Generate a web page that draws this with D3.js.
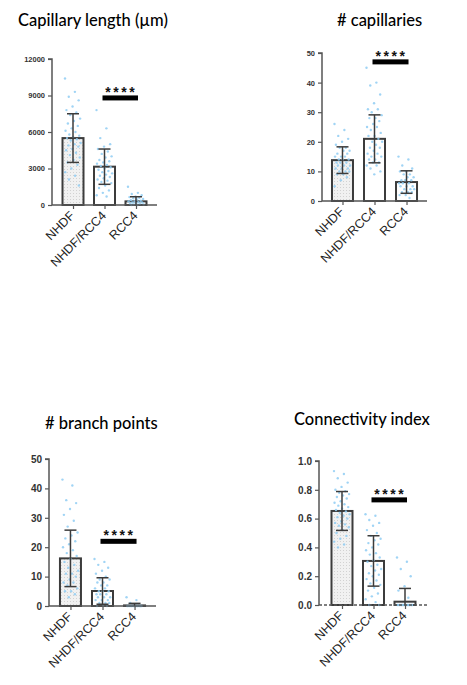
<!DOCTYPE html>
<html><head><meta charset="utf-8">
<script src="https://cdn.jsdelivr.net/npm/d3@7"></script>
<style>body{margin:0;background:#fff}svg{display:block}</style>
</head><body>
<svg id="c" width="467" height="685"></svg>
<script>
const categories = ["NHDF", "NHDF/RCC4", "RCC4"];

// Capillary length (µm)
const lenMean = [5500, 3150, 300];
const lenSD = [2000, 1450, 380];
const lenTicks = [0, 3000, 6000, 9000, 12000];
const lenNHDF = [10400, 9300, 8900, 8600, 8100, 7800, 7600, 7400, 7100, 6900, 6700, 6500, 6300, 6100, 6000, 5800, 5700, 5600, 5500, 5400, 5300, 5100, 5000, 4900, 4800, 4600, 4500, 4300, 4100, 3900, 3700, 3500, 3300, 3000, 2700, 2400, 2100, 1600];
const lenMix = [7800, 6300, 5500, 5000, 4800, 4600, 4400, 4200, 4000, 3900, 3700, 3600, 3500, 3400, 3300, 3200, 3100, 3000, 2900, 2800, 2700, 2600, 2500, 2400, 2300, 2200, 2100, 2000, 1900, 1800, 1600, 1400, 1200, 1000, 800, 700];
const lenRCC4 = [1500, 1000, 900, 800, 700, 650, 600, 550, 500, 450, 400, 350, 300, 300, 250, 200, 200, 150, 100, 100, 50, 50, 0, 0];

// # capillaries
const capMean = [13.8, 21, 6.4];
const capSD = [4.5, 8.1, 3.8];
const capTicks = [0, 10, 20, 30, 40, 50];
const capNHDF = [26, 24, 22, 21, 20, 19, 18, 18, 17, 17, 16, 16, 15, 15, 15, 14, 14, 14, 13, 13, 13, 12, 12, 12, 11, 11, 11, 10, 10, 10, 9, 9, 8, 7, 5];
const capMix = [45, 40, 39, 36, 33, 31, 31, 30, 29, 28, 28, 27, 26, 25, 25, 24, 23, 22, 22, 21, 20, 20, 19, 18, 18, 17, 16, 16, 15, 15, 14, 14, 13, 13, 12, 12, 11, 10, 9];
const capRCC4 = [15, 14, 12, 11, 10, 10, 9, 9, 8, 8, 7, 7, 7, 6, 6, 6, 5, 5, 5, 4, 4, 4, 3, 3, 3, 2, 2, 1];

// # branch points
const brMean = [16.2, 5.1, 0.2];
const brSD = [9.6, 4.5, 0.7];
const brTicks = [0, 10, 20, 30, 40, 50];
const brNHDF = [43, 41, 36, 35, 33, 31, 29, 27, 25, 24, 23, 22, 21, 20, 19, 18, 17, 16, 15, 14, 13, 12, 11, 11, 10, 9, 8, 8, 7, 6, 5, 5, 4, 3];
const brMix = [16, 15, 14, 13, 12, 11, 10, 9, 9, 8, 8, 7, 7, 6, 6, 5, 5, 5, 4, 4, 4, 3, 3, 3, 2, 2, 2, 1, 1, 1, 0, 0, 0];
const brRCC4 = [3, 2, 1, 0, 0, 0, 0, 0, 0, 0, 0, 0, 0, 0, 0, 0, 0, 0];

// Connectivity index
const ciMean = [0.653, 0.306, 0.023];
const ciSD = [0.135, 0.175, 0.092];
const ciTicks = [0, 0.2, 0.4, 0.6, 0.8, 1.0];
const ciNHDF = [0.93, 0.91, 0.88, 0.85, 0.82, 0.80, 0.79, 0.78, 0.77, 0.76, 0.75, 0.74, 0.72, 0.71, 0.70, 0.69, 0.68, 0.67, 0.66, 0.65, 0.64, 0.63, 0.62, 0.61, 0.60, 0.58, 0.57, 0.56, 0.55, 0.54, 0.52, 0.50, 0.48, 0.46, 0.44, 0.42, 0.40];
const ciMix = [0.63, 0.62, 0.59, 0.57, 0.55, 0.52, 0.50, 0.48, 0.46, 0.45, 0.43, 0.42, 0.40, 0.38, 0.36, 0.35, 0.33, 0.31, 0.30, 0.28, 0.27, 0.25, 0.24, 0.22, 0.21, 0.20, 0.18, 0.17, 0.15, 0.14, 0.12, 0.10, 0.08, 0.06, 0.04, 0.02, 0, 0];
const ciRCC4 = [0.33, 0.30, 0.25, 0.20, 0.13, 0.10, 0.05, 0, 0, 0, 0, 0, 0, 0, 0, 0, 0, 0, 0, 0];

const titles = ["Capillary length (µm)", "# capillaries", "# branch points", "Connectivity index"];
const sigLevels = [8800, 47, 22, 0.73];
const sigText = "****";

const svg = d3.select("#c");
const defs = svg.append("defs");
const pat = defs.append("pattern").attr("id", "dots").attr("width", 3).attr("height", 3).attr("patternUnits", "userSpaceOnUse");
pat.append("rect").attr("width", 3).attr("height", 3).attr("fill", "#f1f1f1");
pat.append("rect").attr("x", 1).attr("y", 1).attr("width", 1).attr("height", 1).attr("fill", "#d2d2d2");

const panels = [
  {title: titles[0], tx: 18, ty: 26, mean: lenMean, sd: lenSD, pts: [lenNHDF, lenMix, lenRCC4], ticks: lenTicks, max: 12000,
   x0: 52, x1: 157, y0: 205, y1: 59, pad: 0.667, tickFont: 7.5, fmt: d3.format("d"), sig: sigLevels[0], dashed: false},
  {title: titles[1], tx: 337, ty: 26, mean: capMean, sd: capSD, pts: [capNHDF, capMix, capRCC4], ticks: capTicks, max: 50,
   x0: 322, x1: 427, y0: 201, y1: 53, pad: 0.64, tickFont: 7.5, fmt: d3.format("d"), sig: sigLevels[1], dashed: false},
  {title: titles[2], tx: 45, ty: 429, mean: brMean, sd: brSD, pts: [brNHDF, brMix, brRCC4], ticks: brTicks, max: 50,
   x0: 49, x1: 156, y0: 606, y1: 459, pad: 0.67, tickFont: 10, fmt: d3.format("d"), sig: sigLevels[2], dashed: false},
  {title: titles[3], tx: 294, ty: 425, mean: ciMean, sd: ciSD, pts: [ciNHDF, ciMix, ciRCC4], ticks: ciTicks, max: 1.0,
   x0: 319, x1: 428, y0: 605, y1: 461, pad: 0.73, tickFont: 10, fmt: d3.format(".1f"), sig: sigLevels[3], dashed: true}
];

const axisCol = "#555";
const barCol = "#3c3c3c";

panels.forEach(p => {
  const g = svg.append("g");
  const x = d3.scalePoint().domain(categories).range([p.x0, p.x1]).padding(p.pad);
  const y = d3.scaleLinear().domain([0, p.max]).range([p.y0, p.y1]);
  const bw = 21;

  g.append("text").attr("x", p.tx).attr("y", p.ty).text(p.title)
    .attr("font-family", "Lato, 'Open Sans', sans-serif").attr("font-size", 16.5).attr("font-weight", 500).attr("fill", "#000");

  // bars
  g.selectAll("rect.bar").data(categories).join("rect").attr("class", "bar")
    .attr("x", d => x(d) - bw / 2).attr("width", bw)
    .attr("y", (d, i) => y(p.mean[i])).attr("height", (d, i) => y(0) - y(p.mean[i]))
    .attr("fill", (d, i) => i === 0 ? "url(#dots)" : "#fff")
    .attr("stroke", barCol).attr("stroke-width", 2);

  // points
  categories.forEach((c, i) => {
    const arr = p.pts[i];
    g.selectAll(null).data(arr).join("circle")
      .attr("cx", (d, k) => x(c) + (((k * 0.618034) % 1) - 0.5) * 16)
      .attr("cy", d => y(d)).attr("r", 1.2)
      .attr("fill", "#8fcdf3").attr("opacity", 0.85);
  });

  // error bars
  categories.forEach((c, i) => {
    const hi = p.mean[i] + p.sd[i];
    const lo = Math.max(0, p.mean[i] - p.sd[i]);
    const cx = x(c);
    g.append("line").attr("x1", cx).attr("x2", cx).attr("y1", y(hi)).attr("y2", y(lo)).attr("stroke", barCol).attr("stroke-width", 1.5);
    g.append("line").attr("x1", cx - 6).attr("x2", cx + 6).attr("y1", y(hi)).attr("y2", y(hi)).attr("stroke", barCol).attr("stroke-width", 1.5);
    if (lo > 0) g.append("line").attr("x1", cx - 6).attr("x2", cx + 6).attr("y1", y(lo)).attr("y2", y(lo)).attr("stroke", barCol).attr("stroke-width", 1.5);
  });

  // y axis
  const ya = g.append("g").attr("transform", `translate(${p.x0},0)`)
    .call(d3.axisLeft(y).tickValues(p.ticks).tickFormat(p.fmt).tickSize(4).tickPadding(3));
  ya.select(".domain").attr("stroke", axisCol).attr("stroke-width", 1.5).attr("d", `M-4,${p.y1}H0V${p.y0}`);
  ya.selectAll(".tick line").attr("stroke", axisCol).attr("stroke-width", 1.2);
  ya.selectAll(".tick text").attr("font-family", "'Liberation Sans', Arial, sans-serif").attr("font-weight", "bold")
    .attr("font-size", p.tickFont).attr("fill", "#333");

  // x axis
  const xa = g.append("g").attr("transform", `translate(0,${p.y0})`)
    .call(d3.axisBottom(x).tickSize(4).tickPadding(2));
  xa.select(".domain").attr("stroke", axisCol).attr("stroke-width", 1.5).attr("d", `M${p.x0},0H${p.x1}`)
    .attr("stroke-dasharray", p.dashed ? "3,2" : null);
  xa.selectAll(".tick line").attr("stroke", axisCol).attr("stroke-width", 1.2);
  xa.selectAll(".tick text").attr("font-family", "'Liberation Sans', Arial, sans-serif")
    .attr("font-size", 12.5).attr("fill", "#222")
    .attr("text-anchor", "end").attr("dy", "0.3em").attr("dx", "-0.2em")
    .attr("transform", "translate(1,7) rotate(-45)").attr("y", 0).attr("x", 0);

  // significance bar
  const sx0 = x(categories[1]) - 2, sx1 = x(categories[2]) + 2;
  g.append("rect").attr("x", sx0).attr("width", sx1 - sx0).attr("y", y(p.sig) - 2.5).attr("height", 5).attr("fill", "#000");
  g.append("text").attr("x", (sx0 + sx1) / 2 + 1).attr("y", y(p.sig) - 1).attr("text-anchor", "middle")
    .attr("font-family", "'Liberation Sans', Arial, sans-serif").attr("font-weight", "bold").attr("font-size", 14)
    .attr("letter-spacing", 2.5).attr("fill", "#111").text(sigText);
});
</script>
</body></html>
